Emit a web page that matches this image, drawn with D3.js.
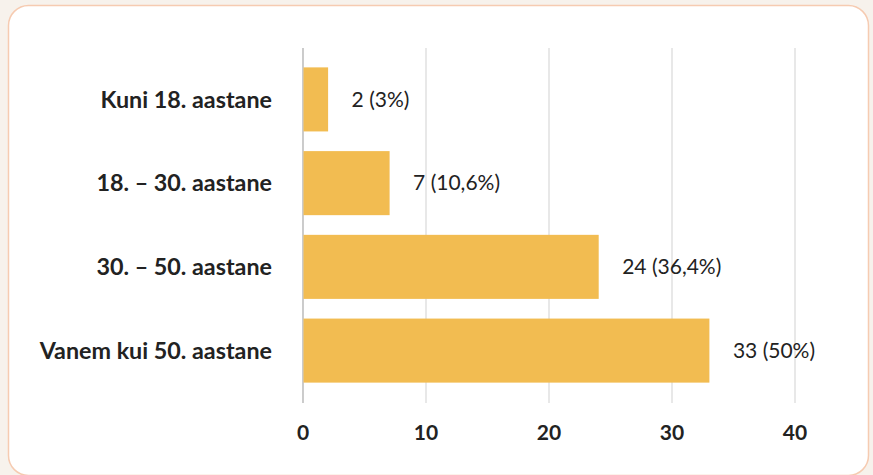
<!DOCTYPE html>
<html>
<head>
<meta charset="utf-8">
<script src="https://cdn.jsdelivr.net/npm/d3@7"></script>
<style>
  body { margin:0; background:#f7f2ec; font-family: Lato, "Open Sans", sans-serif; }
</style>
</head>
<body>
<div id="chart"></div>
<script>
var categories = ["Kuni 18. aastane", "18. – 30. aastane", "30. – 50. aastane", "Vanem kui 50. aastane"];
var values = [2, 7, 24, 33];
var labels = ["2 (3%)", "7 (10,6%)", "24 (36,4%)", "33 (50%)"];
var ticks = [0, 10, 20, 30, 40];

var width = 873, height = 475;
var svg = d3.select("#chart").append("svg")
    .attr("width", width)
    .attr("height", height);

// card
svg.append("rect")
    .attr("x", 8.5).attr("y", 5.5)
    .attr("width", 860).attr("height", 470)
    .attr("rx", 20)
    .attr("fill", "#fff")
    .attr("stroke", "#f6cbb1")
    .attr("stroke-width", 1.5);

var x = d3.scaleLinear().domain([0, 40]).range([303, 795]);
var y = d3.scaleBand().domain(categories).range([57.5, 392.5]).paddingInner(0.235).paddingOuter(0.118);

// gridlines
svg.append("g").selectAll("line")
    .data(ticks)
    .enter().append("line")
    .attr("x1", function(d) { return x(d); })
    .attr("x2", function(d) { return x(d); })
    .attr("y1", 48).attr("y2", 403)
    .attr("stroke", function(d) { return d == 0 ? "#b0b0b0" : "#dcdcdc"; })
    .attr("stroke-width", 1.3);

svg.append("g").selectAll("rect")
    .data(values)
    .enter().append("rect")
    .attr("x", x(0) + 0.5)
    .attr("y", function(d, i) { return y(categories[i]); })
    .attr("width", function(d) { return x(d) - x(0); })
    .attr("height", y.bandwidth())
    .attr("fill", "#f2bc51");

svg.append("g").selectAll("text")
    .data(labels)
    .enter().append("text")
    .attr("x", function(d, i) { return x(values[i]) + 24; })
    .attr("y", function(d, i) { return y(categories[i]) + y.bandwidth() / 2; })
    .attr("dy", "0.35em")
    .attr("font-size", 21)
    .attr("fill", "#222")
    .text(function(d) { return d; });

svg.append("g").selectAll("text")
    .data(categories)
    .enter().append("text")
    .attr("x", 272)
    .attr("y", function(d) { return y(d) + y.bandwidth() / 2; })
    .attr("dy", "0.35em")
    .attr("text-anchor", "end")
    .attr("font-size", 23.3)
    .attr("font-weight", "bold")
    .attr("fill", "#222")
    .text(function(d) { return d; });

svg.append("g").selectAll("text")
    .data(ticks)
    .enter().append("text")
    .attr("x", function(d) { return x(d); })
    .attr("y", 433)
    .attr("dy", "0.35em")
    .attr("text-anchor", "middle")
    .attr("font-size", 21)
    .attr("font-weight", "bold")
    .attr("fill", "#222")
    .text(function(d) { return d; });
</script>
</body>
</html>
